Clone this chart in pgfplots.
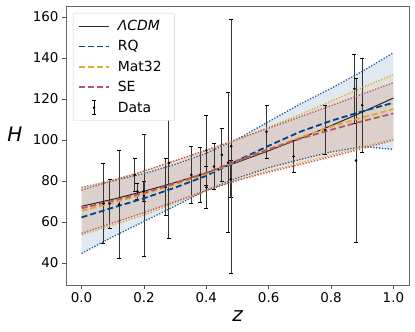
\documentclass[border=0pt]{standalone}
\usepackage{pgfplots}
\pgfplotsset{compat=1.18}
\usepackage{pgfplotstable}
\usepgfplotslibrary{fillbetween}
\usepackage{fontspec}
\setmainfont{DejaVu Sans}

\definecolor{rqc}{HTML}{004488}
\definecolor{mtc}{HTML}{DDAA33}
\definecolor{sec}{HTML}{BB5566}

% cosmic chronometer points: z, H, sigma
\pgfplotstableread{
z      H      e
0.07   69.0   19.6
0.09   69.0   12.0
0.12   68.6   26.2
0.17   83.0    8.0
0.179  75.0    4.0
0.199  75.0    5.0
0.2    72.9   29.6
0.27   77.0   14.0
0.28   88.8   36.6
0.352  83.0   14.0
0.3802 83.0   13.5
0.4    95.0   17.0
0.4004 77.0   10.2
0.4247 87.1   11.2
0.4497 92.8   12.9
0.47   89.0   34.0
0.4783 80.9    9.0
0.48   97.0   62.0
0.593 104.0   13.0
0.68   92.0    8.0
0.781 105.0   12.0
0.875 125.0   17.0
0.88   90.0   40.0
0.9   117.0   23.0
}\data

\pgfplotstableread{
z    H
0.0  67.7
0.1  71.1
0.2  75.0
0.3  79.3
0.4  84.0
0.5  89.2
0.6  94.8
0.7  100.7
0.8  107.0
0.9  113.6
1.0  120.5
}\lcdm

% GP reconstructions: mean, upper, lower
\pgfplotstableread{
z    m      up     lo
0.0  62.3   76.9   44.7
0.1  67.0   80.2   52.8
0.2  71.6   83.6   60.3
0.3  76.8   88.2   67.8
0.4  82.6   93.6   75.5
0.5  90.0  100.5   81.5
0.6  97.2  109.0   86.5
0.7  104.0 117.5   90.5
0.8  109.4 125.2   94.2
0.9  114.0 133.5   96.8
1.0  118.2 142.6   95.5
}\rq

\pgfplotstableread{
z    m      up     lo
0.0  65.5   76.6   53.7
0.1  69.4   80.6   58.6
0.2  73.6   84.8   63.4
0.3  78.4   89.8   69.3
0.4  83.5   94.8   75.3
0.5  89.8  100.2   80.6
0.6  95.6  106.2   85.0
0.7  101.3 112.4   88.8
0.8  106.5 119.0   92.6
0.9  111.0 125.6   96.6
1.0  115.1 132.0  100.6
}\mat

\pgfplotstableread{
z    m      up     lo
0.0  66.7   75.6   54.5
0.1  70.4   80.1   59.6
0.2  74.2   84.9   64.6
0.3  79.0   90.0   70.0
0.4  84.0   95.1   75.5
0.5  90.0  100.5   80.3
0.6  95.4  105.8   84.4
0.7  100.6 111.3   88.0
0.8  105.0 116.8   91.8
0.9  109.2 122.4   95.8
1.0  113.0 128.0  100.0
}\se

\begin{document}
\begin{tikzpicture}
\begin{axis}[
  name=ax, set layers,
  width=343bp, height=279bp, scale only axis,
  xmin=-0.05, xmax=1.05, ymin=29.3, ymax=165.4,
  axis line style={black!60, line width=0.8bp},
  xtick={0,0.2,0.4,0.6,0.8,1.0},
  ytick={40,60,80,100,120,140,160},
  xtick pos=bottom, ytick pos=left, tick align=outside,
  major tick length=4bp,
  tick style={black!70, line width=0.8bp},
  x tick label style={/pgf/number format/.cd, fixed, fixed zerofill, precision=1},
  /pgf/number format/assume math mode=true,
  tick label style={font=\fontsize{13.5}{15}\selectfont},
  xlabel={\itshape z}, ylabel={\itshape H},
  xlabel style={font=\fontsize{20}{22}\selectfont, at={(axis description cs:0.5,-0.11)}, anchor=center},
  ylabel style={font=\fontsize{20}{22}\selectfont, rotate=-90, at={(axis description cs:-0.149,0.541)}, anchor=center},
  legend image code/.code={\draw[#1] (0bp,0bp) -- (30bp,0bp);},
  legend cell align=left,
  legend style={at={(axis description cs:0.02,0.975)}, anchor=north west,
    draw=black!18, rounded corners=2bp, fill=white, text opacity=1,
    font=\fontsize{14}{16}\selectfont, row sep=4.6bp, inner xsep=5bp, inner ysep=5bp,
    nodes={inner xsep=8bp}},
]
\coordinate (bl) at (rel axis cs:0,0);
\coordinate (tr) at (rel axis cs:1,1);

% band edges
\addplot[name path=rqU, rqc!85, line width=1.3bp, dash pattern=on 1.3bp off 1.6bp, forget plot] table[x=z,y=up] {\rq};
\addplot[name path=rqL, rqc!85, line width=1.3bp, dash pattern=on 1.3bp off 1.6bp, forget plot] table[x=z,y=lo] {\rq};
\addplot[name path=mtU, mtc, line width=1.3bp, dash pattern=on 1.3bp off 1.6bp, forget plot] table[x=z,y=up] {\mat};
\addplot[name path=mtL, mtc, line width=1.3bp, dash pattern=on 1.3bp off 1.6bp, forget plot] table[x=z,y=lo] {\mat};
\addplot[name path=seU, sec, line width=1.3bp, dash pattern=on 1.3bp off 1.6bp, forget plot] table[x=z,y=up] {\se};
\addplot[name path=seL, sec, line width=1.3bp, dash pattern=on 1.3bp off 1.6bp, forget plot] table[x=z,y=lo] {\se};
\addplot[rqc, fill opacity=0.12, forget plot] fill between[of=rqU and rqL];
\addplot[mtc, fill opacity=0.12, forget plot] fill between[of=mtU and mtL];
\addplot[sec, fill opacity=0.12, forget plot] fill between[of=seU and seL];

\addplot[black!85, line width=1bp] table[x=z,y=H] {\lcdm};
\addlegendentry{\itshape ΛCDM}
\addplot[rqc, line width=1.8bp, dash pattern=on 6bp off 3bp] table[x=z,y=m] {\rq};
\addlegendentry{RQ}
\addplot[mtc, line width=1.8bp, dash pattern=on 6bp off 3bp] table[x=z,y=m] {\mat};
\addlegendentry{Mat32}
\addplot[sec, line width=1.8bp, dash pattern=on 6bp off 3bp] table[x=z,y=m] {\se};
\addlegendentry{SE}

\addplot[black, only marks, mark=*, mark size=1.1bp, on layer=pre main,
  legend image code/.code={
    \draw[black, line width=0.7bp] (15bp,-7bp) -- (15bp,7bp);
    \draw[black, line width=0.7bp] (13bp,-7bp) -- (17bp,-7bp) (13bp,7bp) -- (17bp,7bp);
    \fill[black] (15bp,0bp) circle (1.1bp);},
  error bars/.cd, y dir=both, y explicit,
  error bar style={black!80, line width=0.9bp},
  error mark options={black, line width=0.9bp, mark size=2bp, rotate=90}]
  table[x=z, y=H, y error=e] {\data};
\addlegendentry{Data}
\end{axis}
\pgfresetboundingbox
\useasboundingbox ([xshift=-66bp,yshift=-47bp]bl) rectangle ([xshift=6bp,yshift=6bp]tr);
\end{tikzpicture}
\end{document}
